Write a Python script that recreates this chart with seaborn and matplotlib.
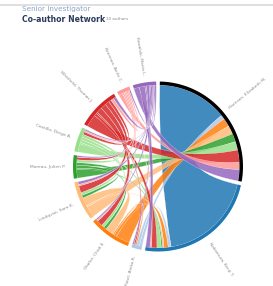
import numpy as np
import matplotlib
matplotlib.use("Agg")
import matplotlib.pyplot as plt
from matplotlib.path import Path
from matplotlib.patches import PathPatch
import seaborn as sns

# --- data -------------------------------------------------------------------
authors = [
    "Harrison, Elizabeth M.", "Nakamura, Kenji T.", "Patel, Anika R.",
    "Okafor, Chidi E.", "Lindqvist, Sara K.", "Moreau, Julien P.",
    "Castillo, Diego A.", "Whitfield, Thomas J.", "Brennan, Aoife C.",
    "Kowalski, Marta L.",
]
# shared_papers[i][j]: papers of author i counted toward co-author j
shared_papers = [
    [0, 50, 3, 6, 6, 6, 6, 9, 5, 8],
    [68, 0, 2, 3, 1, 1, 3, 4, 1, 3],
    [2, 2, 0, 1, 0, 0, 0, 1, 0, 1],
    [10, 2, 1, 0, 6, 2, 2, 4, 1, 1],
    [8, 1, 0, 6, 0, 2, 2, 5, 1, 2],
    [6, 1, 0, 2, 2, 0, 2, 2, 0, 1],
    [6, 1, 0, 2, 2, 2, 0, 2, 1, 1],
    [9, 2, 1, 4, 4, 3, 2, 0, 2, 2],
    [3, 0, 0, 1, 1, 1, 1, 1, 0, 1],
    [4, 4, 1, 2, 1, 1, 1, 1, 1, 0],
]
title_top = "Senior Investigator"
title_main = "Co-author Network"
title_note = "10 authors"

# --- layout -----------------------------------------------------------------
sns.set_theme(style="white")
colors = ["black"] + sns.color_palette("tab20")[:9]

W, H = 273, 286
cx, cy, R = 158, 166.5, 85
ring = 3.5
pad = np.deg2rad(2.5)

m = np.asarray(shared_papers, dtype=float)
n = len(authors)
k = (2 * np.pi - pad * n) / m.sum()

# group and subgroup angles (clockwise from 12 o'clock), d3.chord style
groups, sub = [], {}
x = pad / 2
for i in range(n):
    x0 = x
    for j in range(n):
        a0 = x
        x += m[i, j] * k
        sub[(i, j)] = (a0, x)
    groups.append((x0, x))
    x += pad


def pt(theta, r):
    return cx + r * np.sin(theta), cy - r * np.cos(theta)


def arc(a0, a1, r, npts=30):
    t = np.linspace(a0, a1, max(2, int(npts * abs(a1 - a0) / 0.5) + 2))
    return [pt(v, r) for v in t]


fig = plt.figure(figsize=(W / 100, H / 100), dpi=100)
ax = fig.add_axes([0, 0, 1, 1])
ax.set_xlim(0, W)
ax.set_ylim(H, 0)
ax.axis("off")

# ribbons
rr = R - ring
for i in range(n):
    for j in range(i + 1, n):
        if m[i, j] == 0 and m[j, i] == 0:
            continue
        s0, s1 = sub[(i, j)]
        t0, t1 = sub[(j, i)]
        sa = arc(s0, s1, rr)
        ta = arc(t0, t1, rr)
        verts = sa + [(cx, cy), ta[0]] + ta[1:] + [(cx, cy), sa[0], sa[0]]
        codes = ([Path.MOVETO] + [Path.LINETO] * (len(sa) - 1)
                 + [Path.CURVE3, Path.CURVE3] + [Path.LINETO] * (len(ta) - 1)
                 + [Path.CURVE3, Path.CURVE3, Path.CLOSEPOLY])
        ax.add_patch(PathPatch(Path(verts, codes), facecolor=colors[j],
                               alpha=0.85, edgecolor="white", lw=0.2))

# group rings and labels
for i, (g0, g1) in enumerate(groups):
    outer = arc(g0, g1, R)
    inner = arc(g1, g0, R - ring)
    ax.add_patch(plt.Polygon(outer + inner, closed=True, color=colors[i],
                             lw=0))
    mid = (g0 + g1) / 2
    lx, ly = pt(mid, R + 7)
    deg = 90 - np.rad2deg(mid)
    if np.rad2deg(mid) > 180:
        deg += 180
        ha = "right"
    else:
        ha = "left"
    ax.text(lx, ly, authors[i], fontsize=3.2, color="#8c8c8c", ha=ha,
            va="center", rotation=deg, rotation_mode="anchor")

# header
ax.axhline(4.5, color="#d9d9d9", lw=1.2)
ax.text(22, 9.5, title_top, fontsize=5.2, color="#8aa4c8", va="center")
ax.text(22, 20, title_main, fontsize=5.6, color="#2b3b5c",
        fontweight="bold", va="center")
ax.text(106, 19.5, title_note, fontsize=3, color="#8a8a8a", va="center")

fig.savefig("out.png", dpi=100)
